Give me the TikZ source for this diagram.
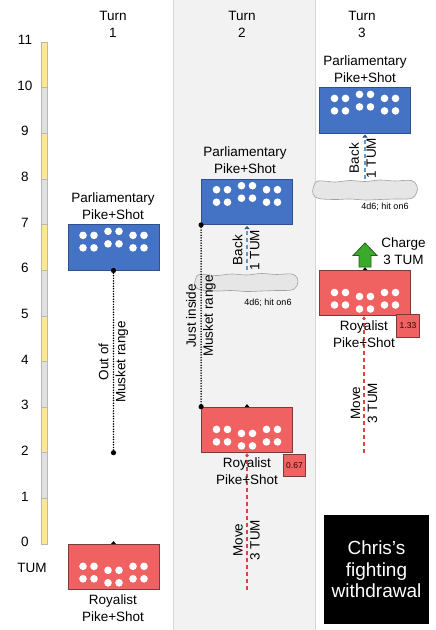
\documentclass[tikz,border=0pt]{standalone}
\usepackage{fontspec}
\setmainfont{Liberation Sans}
\usetikzlibrary{arrows.meta}
\definecolor{bluefill}{HTML}{4472C4}
\definecolor{blueedge}{HTML}{2F4F8F}
\definecolor{redfill}{HTML}{F06262}
\definecolor{rededge}{HTML}{7A3B3B}
\definecolor{panelfill}{HTML}{F2F2F2}
\definecolor{paneledge}{HTML}{D6D6D6}
\definecolor{rulery}{HTML}{FFE699}
\definecolor{rulerg}{HTML}{E0E0E0}
\definecolor{rulerline}{HTML}{B8B8B8}
\definecolor{cloudfill}{HTML}{E6E6E6}
\definecolor{cloudedge}{HTML}{A0A0A0}
\definecolor{greenfill}{HTML}{3AAA2A}
\definecolor{greenedge}{HTML}{2A5E1E}
\definecolor{movered}{HTML}{D9443F}
\definecolor{backblue}{HTML}{5B9BD5}
\tikzset{
  lbl/.style={font=\fontsize{13.5}{17}\selectfont, align=center, inner sep=0pt},
  rotlbl/.style={lbl, rotate=90},
  smalltxt/.style={font=\fontsize{9}{10}\selectfont, inner sep=0pt},
  bluebox/.style={draw=blueedge, fill=bluefill, line width=0.8pt, minimum width=91pt, minimum height=45.6pt, inner sep=0pt},
  redbox/.style={draw=rededge, fill=redfill, line width=0.8pt, minimum width=91pt, minimum height=45.6pt, inner sep=0pt},
  numbox/.style={draw=rededge, fill=redfill, line width=0.8pt, minimum size=22.5pt, inner sep=0pt, font=\fontsize{8.5}{9}\selectfont, text=black!80!red},
  dotline/.style={line width=1.7pt, line cap=round, dash pattern=on 0pt off 2.6pt},
  enddot/.style={fill=black},
  movearrow/.style={movered, line width=1.2pt, dash pattern=on 4pt off 3pt, -{Triangle[length=3pt,width=4pt]}},
  backarrow/.style={backblue, line width=1.2pt, dash pattern=on 4pt off 3pt, -{Triangle[length=3pt,width=5pt,color=blueedge]}},
  cloudshape/.style={fill=cloudfill, draw=cloudedge, line width=0.6pt},
  greenarrow/.style={fill=greenfill, draw=greenedge, line width=0.8pt},
  chrisbox/.style={fill=black, text=white, minimum width=105pt, minimum height=109pt, inner sep=0pt, align=center, font=\fontsize{19}{21.5}\selectfont},
  pics/blueunit/.style={code={
    \node[bluebox] (-box) at (0,0) {};
    \foreach \dx/\dy in {-30.5/-12, -19.5/-12, -5.5/-16, 5.5/-16, 19.5/-12, 30.5/-12,
                         -30.5/0.5, -19.5/0.5, -5.5/-3.5, 5.5/-3.5, 19.5/0.5, 30.5/0.5}
      \fill[white] (\dx,\dy) circle[radius=3.8pt];
  }},
  pics/redunit/.style={code={
    \node[redbox] (-box) at (0,0) {};
    \foreach \dx/\dy in {-30.5/12, -19.5/12, -5.5/16, 5.5/16, 19.5/12, 30.5/12,
                         -30.5/-0.5, -19.5/-0.5, -5.5/3.5, 5.5/3.5, 19.5/-0.5, 30.5/-0.5}
      \fill[white] (\dx,\dy) circle[radius=3.8pt];
    \fill (-2.5,-22.8) -- (2.5,-22.8) -- (0,-25.8) -- cycle;
  }},
}
\begin{document}
\begin{tikzpicture}[x=1pt,y=-1pt]
\useasboundingbox (0,0) rectangle (436,630);
% middle panel
\filldraw[fill=panelfill, draw=paneledge, line width=0.8pt] (173,-2) rectangle (315,632);
% ruler
\foreach \i in {0,...,10}{
  \pgfmathsetmacro{\ya}{544-45.636*\i}
  \pgfmathsetmacro{\yb}{544-45.636*(\i+1)}
  \pgfmathtruncatemacro{\parity}{mod(\i,2)}
  \ifnum\parity=0
    \filldraw[fill=rulery, draw=rulerline, line width=0.5pt] (41,\ya) rectangle (47,\yb);
  \else
    \filldraw[fill=rulerg, draw=rulerline, line width=0.5pt] (41,\ya) rectangle (47,\yb);
  \fi
}
\foreach \i in {0,...,11}{
  \pgfmathsetmacro{\ya}{544-45.636*\i-2}
  \node[lbl] (tick\i) at (25,\ya) {\i};
}
\node[lbl] (tumlbl) at (32,568) {TUM};
% headers
\node[lbl] (turn1) at (113,24.5) {Turn\\1};
\node[lbl] (turn2) at (242,24.5) {Turn\\2};
\node[lbl] (turn3) at (362,24.5) {Turn\\3};

% ---------------- Turn 1
\pic (b1) at (113.5,247.35) {blueunit};
\pic (r1) at (113.5,566.8) {redunit};
\node[lbl] (b1lbl) at (113,206.5) {Parliamentary\\Pike+Shot};
\node[lbl] (r1lbl) at (113,608.5) {Royalist\\Pike+Shot};
\coordinate (r1range) at (113.5,452.7);
\draw[dotline] (b1-box.south) -- (r1range);
\fill[enddot] (b1-box.south) circle[radius=2.6pt];
\fill[enddot] (r1range) circle[radius=2.6pt];
\node[rotlbl] (t1range) at (113.5,362) {Out of\\Musket range};

% ---------------- Turn 2
\coordinate (c2base) at (247,270.2);
\draw[backarrow] (c2base) -- (247,226);
\pic (b2) at (247,201.7) {blueunit};
\node[lbl] (b2lbl) at (245,160) {Parliamentary\\Pike+Shot};
\node[rotlbl] (back2) at (246,250) {Back\\1 TUM};
\begin{scope}[shift={(246.5,282.5)}]
\draw[cloudshape] plot[smooth cycle, tension=0.6] coordinates {(-51,-3) (-47,-8) (-30,-7) (-15,-8.5) (0,-7.5) (15,-9) (30,-8) (45,-8.5) (51,-4) (50.5,3) (45,7.5) (30,8) (15,8.5) (0,9) (-15,8) (-30,8.5) (-45,7.5) (-51.5,4)};
\end{scope}
\node[smalltxt] (hit2) at (268,303) {4d6; hit on6};
\coordinate (m2start) at (247,590);
\pic (r2) at (247,429.9) {redunit};
\draw[movearrow] (m2start) -- (r2-box.south);
\node[lbl] (r2lbl) at (247,471.5) {Royalist\\Pike+Shot};
\node[numbox] (n2) at (294.5,465.5) {0.67};
\node[rotlbl] (move2) at (246.5,540) {Move\\3 TUM};
\draw[dotline] (b2-box.south west) -- (r2-box.north west);
\fill[enddot] (b2-box.south west) circle[radius=2.6pt];
\fill[enddot] (r2-box.north west) circle[radius=2.6pt];
\node[rotlbl] (t2range) at (201,316) {Just inside\\Musket range};

% ---------------- Turn 3
\coordinate (c3base) at (365,178.9);
\draw[backarrow] (c3base) -- (365,134.5);
\pic (b3) at (365,110.4) {blueunit};
\node[lbl] (b3lbl) at (365,69.5) {Parliamentary\\Pike+Shot};
\node[rotlbl] (back3) at (362.5,158) {Back\\1 TUM};
\begin{scope}[shift={(365,190)}]
\draw[cloudshape] plot[smooth cycle, tension=0.6] coordinates {(-51.5,-3) (-47,-9) (-30,-8) (-15,-9.5) (0,-8.5) (15,-10) (30,-9) (46,-9.5) (52,-4) (51.5,3) (46,8.5) (30,9) (15,9.5) (0,10) (-15,9) (-30,9.5) (-46,8.5) (-52,4)};
\end{scope}
\node[smalltxt] (hit3) at (385,207) {4d6; hit on6};
\coordinate (m3start) at (364,452.7);
\pic (r3) at (365,293) {redunit};
\draw[movearrow] (m3start) -- (m3start |- r3-box.south);
\node[lbl] (r3lbl) at (364,334.5) {Royalist\\Pike+Shot};
\node[numbox] (n3) at (408,326) {1.33};
\node[rotlbl] (move3) at (364,403) {Move\\3 TUM};
\filldraw[greenarrow] (359,267) -- (359,255.5) -- (353,255.5) -- (365,243) -- (377,255.5) -- (371,255.5) -- (371,267) -- cycle;
\node[lbl] (charge) at (403.5,251) {Charge\\3 TUM};

% ---------------- note
\node[chrisbox] (chris) at (376.5,569.5) {Chris’s\\fighting\\withdrawal};
\end{tikzpicture}
\end{document}
